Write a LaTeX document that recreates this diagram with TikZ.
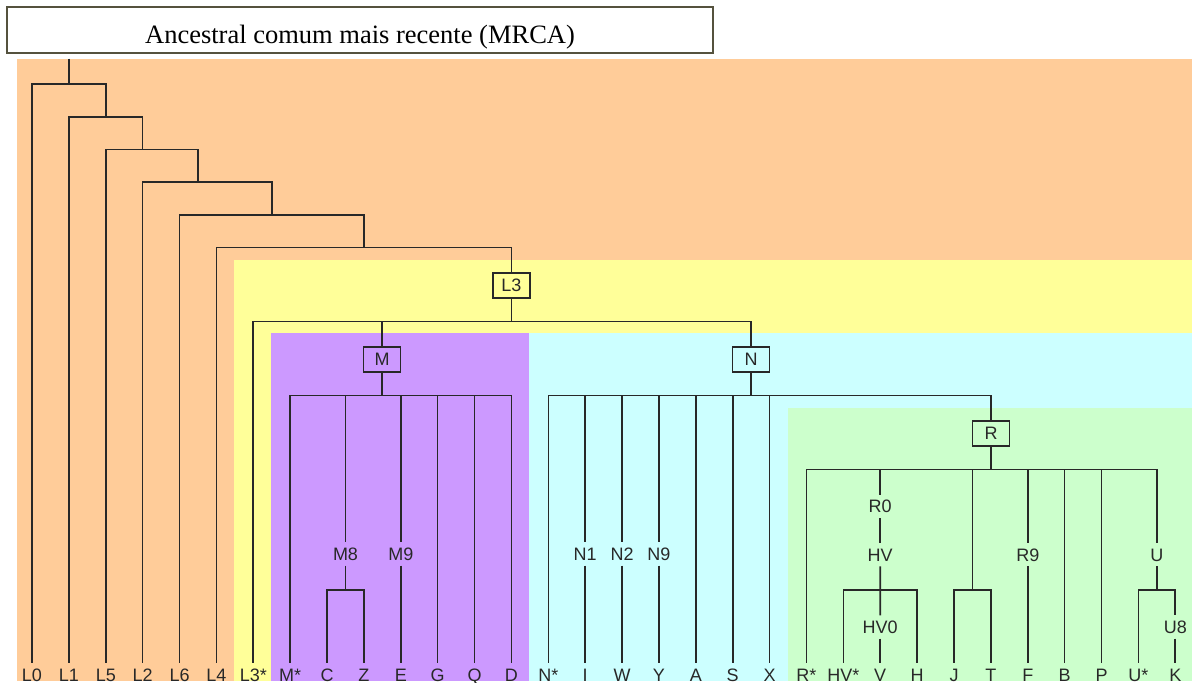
\documentclass[tikz,border=0pt]{standalone}
\usepackage{fontspec}
\setmainfont{Liberation Serif}
\newfontfamily\treesans{Liberation Sans}
\usepackage{tikz}
\usepackage{xcolor}
\usetikzlibrary{positioning}

\definecolor{peach}{HTML}{FFCC99}
\definecolor{paleyellow}{HTML}{FFFF99}
\definecolor{lilac}{HTML}{CC99FF}
\definecolor{paleaqua}{HTML}{CCFFFF}
\definecolor{palegreen}{HTML}{CCFFCC}
\definecolor{inkgray}{RGB}{40,40,40}
\definecolor{frameolive}{RGB}{85,82,62}

\begin{document}
\begin{tikzpicture}[
    x=1pt, y=-1pt,
    node distance=36.88pt,
    on grid,
    titlebox/.style={
        rectangle,
        draw=frameolive,
        line width=1.6pt,
        fill=white,
        inner sep=0pt,
        minimum width=706pt,
        text height=36.5pt,
        text depth=9.5pt,
        align=center,
        font=\fontsize{26.5}{30}\selectfont
    },
    leafname/.style={
        text=inkgray,
        inner xsep=1pt,
        inner ysep=5pt,
        text height=13pt,
        text depth=0pt,
        font=\treesans\fontsize{18}{20}\selectfont
    },
    cladename/.style={
        leafname
    },
    cladebox/.style={
        rectangle,
        draw=inkgray,
        line width=1.6pt,
        minimum width=37pt,
        minimum height=25pt,
        inner sep=0pt,
        text=inkgray,
        font=\treesans\fontsize{18}{20}\selectfont
    },
    branch/.style={draw=inkgray,line width=1.6pt}
]
\useasboundingbox (0,0) rectangle (1192,683);
\fill [peach] (17,58.5) rectangle (1192,681);
\fill [paleyellow] (234,259.5) rectangle (1192,681);
\fill [lilac] (271,333.3) rectangle (528.5,681);
\fill [paleaqua] (528.5,333.3) rectangle (1192,681);
\fill [palegreen] (787.5,407.5) rectangle (1192,681);

\node (mrca) [titlebox] at (360,30) {Ancestral comum mais recente (MRCA)};

\node (L0) [leafname] at (32,674.5) {L0};
\node (L1) [leafname, right=of L0] {L1};
\node (L5) [leafname, right=of L1] {L5};
\node (L2) [leafname, right=of L5] {L2};
\node (L6) [leafname, right=of L2] {L6};
\node (L4) [leafname, right=of L6] {L4};
\node (L3s) [leafname, right=of L4] {L3*};
\node (Ms) [leafname, right=of L3s] {M*};
\node (C) [leafname, right=of Ms] {C};
\node (Z) [leafname, right=of C] {Z};
\node (E) [leafname, right=of Z] {E};
\node (G) [leafname, right=of E] {G};
\node (Q) [leafname, right=of G] {Q};
\node (D) [leafname, right=of Q] {D};
\node (Ns) [leafname, right=of D] {N*};
\node (I) [leafname, right=of Ns] {I};
\node (W) [leafname, right=of I] {W};
\node (Y) [leafname, right=of W] {Y};
\node (A) [leafname, right=of Y] {A};
\node (S) [leafname, right=of A] {S};
\node (X) [leafname, right=of S] {X};
\node (Rs) [leafname, right=of X] {R*};
\node (HVs) [leafname, right=of Rs] {HV*};
\node (V) [leafname, right=of HVs] {V};
\node (H) [leafname, right=of V] {H};
\node (J) [leafname, right=of H] {J};
\node (T) [leafname, right=of J] {T};
\node (F) [leafname, right=of T] {F};
\node (B) [leafname, right=of F] {B};
\node (P) [leafname, right=of B] {P};
\node (Us) [leafname, right=of P] {U*};
\node (K) [leafname, right=of Us] {K};

\node (L3) [cladebox] at (511.3,285.2) {L3};
\node (M) [cladebox] at (382,359.2) {M};
\node (N) [cladebox] at (751,359.2) {N};
\node (R) [cladebox] at (991,433.2) {R};

\node (M8) [cladename] at (345.5,553.8) {M8};
\node (M9) [cladename, above=120.7pt of E] {M9};
\node (N1) [cladename, above=120.7pt of I] {N1};
\node (N2) [cladename, above=120.7pt of W] {N2};
\node (N9) [cladename, above=120.7pt of Y] {N9};
\node (R0) [cladename, above=168.2pt of V] {R0};
\node (HV) [cladename, above=119.8pt of V] {HV};
\node (HV0) [cladename, above=47.5pt of V] {HV0};
\node (R9) [cladename, above=119.8pt of F] {R9};
\node (U) [cladename] at (1156.8,554.7) {U};
\node (U8) [cladename, above=47.5pt of K] {U8};

\coordinate (top) at (68.9,58.5);
\coordinate (j1) at (68.9,84);
\coordinate (j2) at (105.8,116.7);
\coordinate (j3) at (142.6,149.5);
\coordinate (j4) at (197.7,182);
\coordinate (j5) at (271.7,215);
\coordinate (j6) at (363.7,247.5);
\coordinate (jL3) at (511.3,321.5);
\coordinate (jM) at (382,395.5);
\coordinate (jM8) at (345.5,590);
\coordinate (jN) at (751,395.5);
\coordinate (jR) at (991,469.3);
\coordinate (jHV) at (880.2,590);
\coordinate (jJT) at (972.4,590);
\coordinate (jU) at (1156.8,590);

\draw [branch] (top) -- (j1);
\draw [branch] (j1) -| (L0);
\draw [branch] (j1) -| (j2);
\draw [branch] (j2) -| (L1);
\draw [branch] (j2) -| (j3);
\draw [branch] (j3) -| (L5);
\draw [branch] (j3) -| (j4);
\draw [branch] (j4) -| (L2);
\draw [branch] (j4) -| (j5);
\draw [branch] (j5) -| (L6);
\draw [branch] (j5) -| (j6);
\draw [branch] (j6) -| (L4);
\draw [branch] (j6) -| (L3);
\draw [branch] (L3) -- (jL3);
\draw [branch] (jL3) -| (L3s);
\draw [branch] (jL3) -| (M);
\draw [branch] (jL3) -| (N);
\draw [branch] (M) -- (jM);
\draw [branch] (jM) -| (Ms);
\draw [branch] (jM) -| (M8);
\draw [branch] (jM) -| (M9);
\draw [branch] (jM) -| (G);
\draw [branch] (jM) -| (Q);
\draw [branch] (jM) -| (D);
\draw [branch] (M8) -- (jM8);
\draw [branch] (jM8) -| (C);
\draw [branch] (jM8) -| (Z);
\draw [branch] (M9) -- (E);
\draw [branch] (N) -- (jN);
\draw [branch] (jN) -| (Ns);
\draw [branch] (jN) -| (N1);
\draw [branch] (jN) -| (N2);
\draw [branch] (jN) -| (N9);
\draw [branch] (jN) -| (A);
\draw [branch] (jN) -| (S);
\draw [branch] (jN) -| (X);
\draw [branch] (jN) -| (R);
\draw [branch] (N1) -- (I);
\draw [branch] (N2) -- (W);
\draw [branch] (N9) -- (Y);
\draw [branch] (R) -- (jR);
\draw [branch] (jR) -| (Rs);
\draw [branch] (jR) -| (R0);
\draw [branch] (jR) -| (jJT);
\draw [branch] (jR) -| (R9);
\draw [branch] (jR) -| (B);
\draw [branch] (jR) -| (P);
\draw [branch] (jR) -| (U);
\draw [branch] (R0) -- (HV);
\draw [branch] (HV) -- (jHV);
\draw [branch] (jHV) -| (HVs);
\draw [branch] (jHV) -| (H);
\draw [branch] (jHV) -- (HV0);
\draw [branch] (HV0) -- (V);
\draw [branch] (jJT) -| (J);
\draw [branch] (jJT) -| (T);
\draw [branch] (R9) -- (F);
\draw [branch] (U) -- (jU);
\draw [branch] (jU) -| (Us);
\draw [branch] (jU) -| (U8);
\draw [branch] (U8) -- (K);
\end{tikzpicture}
\end{document}
